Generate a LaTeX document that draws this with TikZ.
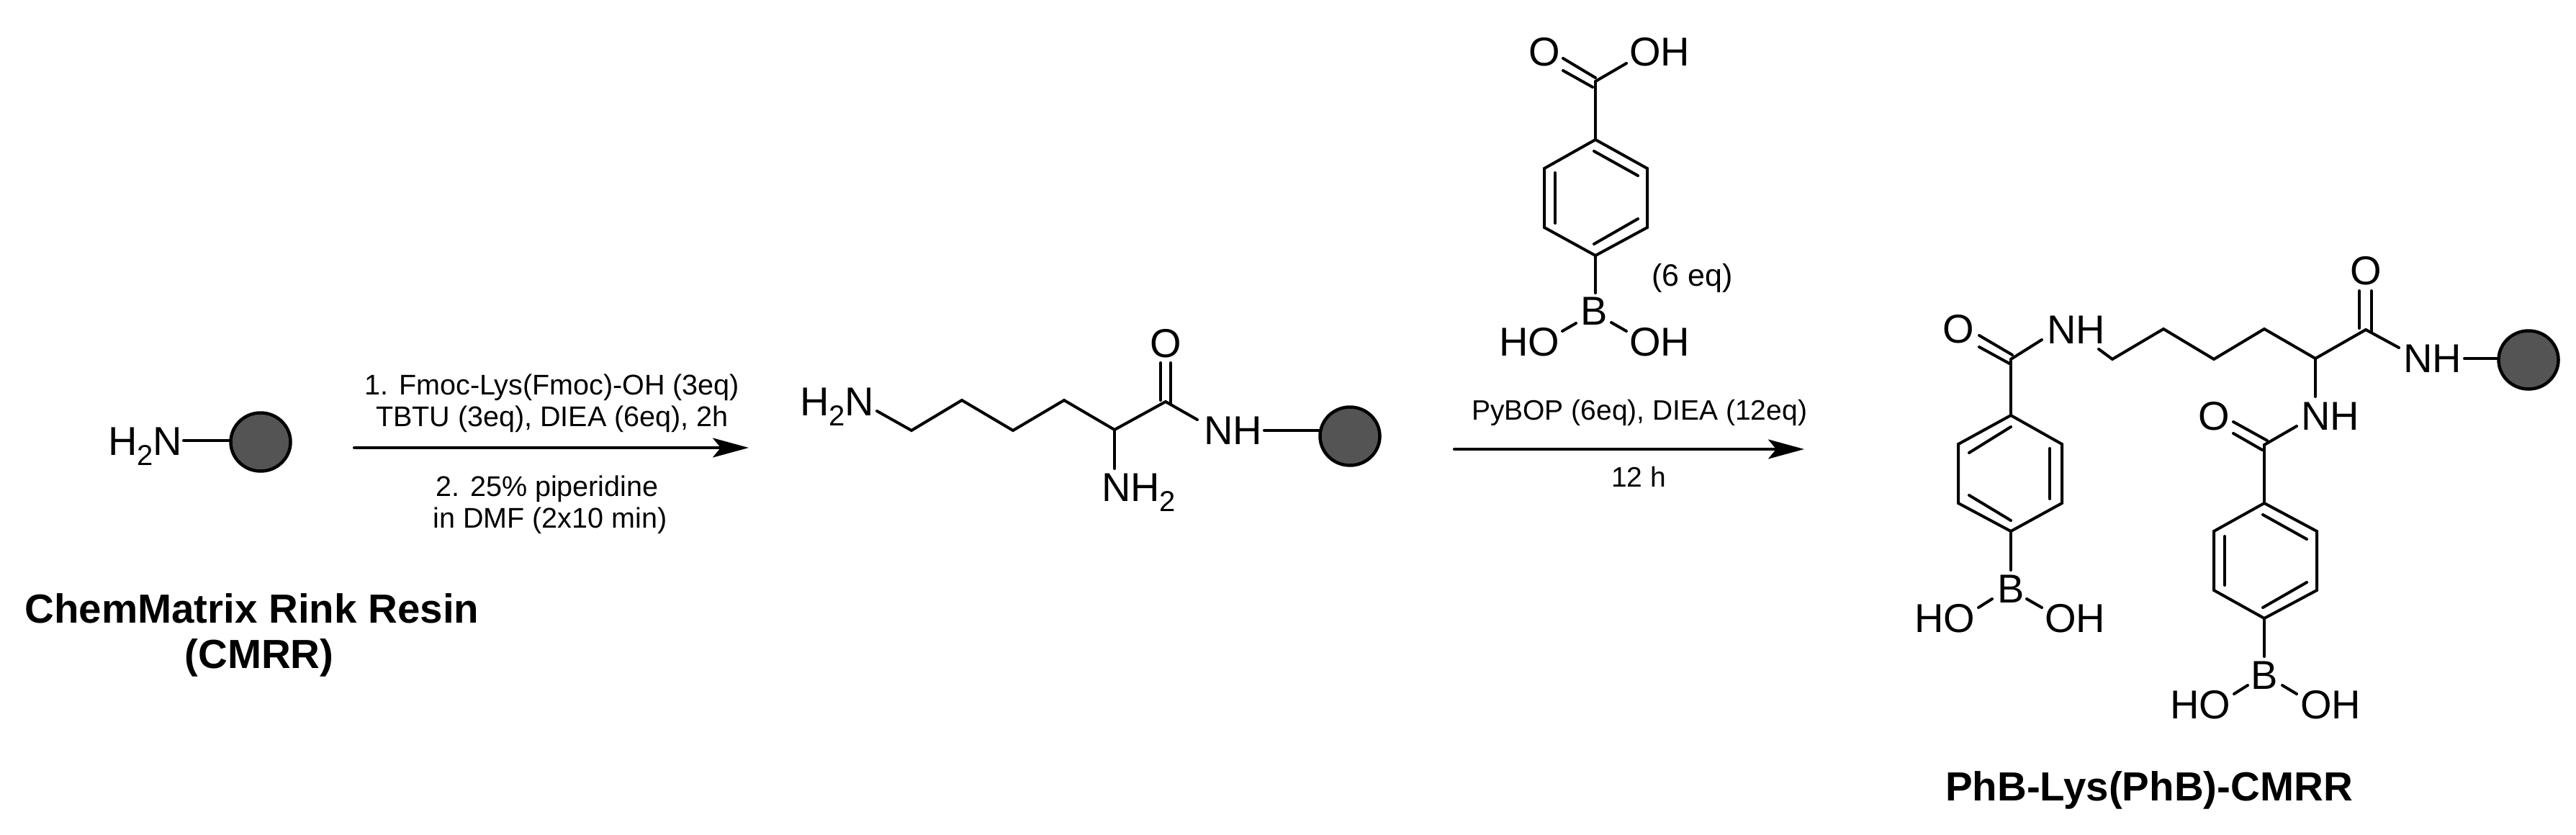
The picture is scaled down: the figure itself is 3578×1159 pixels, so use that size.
\documentclass[tikz,border=0pt]{standalone}
\usepackage{fontspec}
\setmainfont{Liberation Sans}
\usetikzlibrary{arrows.meta,shapes.geometric}
\newcommand{\subtwo}{\raisebox{-14pt}{\fontsize{40pt}{42pt}\selectfont 2}}
\tikzset{
 bond/.style={line width=4pt,line cap=round,line join=miter},
 rxn/.style={line width=4pt,line cap=round,-{Stealth[length=50pt,width=27pt,inset=11pt]}},
 atomW/.style={inner sep=0pt,outer sep=0pt,anchor=base west,xshift=-4pt,font=\fontsize{56pt}{60pt}\selectfont},
 atomC/.style={inner sep=0pt,outer sep=0pt,anchor=base,font=\fontsize{56pt}{60pt}\selectfont},
 condA/.style={inner sep=0pt,anchor=base,font=\fontsize{39.5pt}{46pt}\selectfont},
 condB/.style={inner sep=0pt,anchor=base,font=\fontsize{39pt}{44pt}\selectfont},
 title/.style={inner sep=0pt,anchor=base,font=\fontsize{56.5pt}{62pt}\selectfont\bfseries},
 ball/.style={ellipse,draw=black,line width=4.5pt,fill=ballgrey,inner sep=0pt,outer sep=0pt,minimum width=83pt,minimum height=81pt},
}
\definecolor{ballgrey}{HTML}{545454}
\begin{document}
\begin{tikzpicture}[x=1pt,y=-1pt]
\useasboundingbox (0,0) rectangle (3578,1159);
% --- resin
\node[atomW] (aH) at (154,632) {H\subtwo N};
\node[ball] (ballA) at (362,614) {};
\coordinate (aN) at (255,612);
\draw[bond] (aN) -- (ballA.west |- aN);
\coordinate (r1s) at (492,622); \coordinate (r1e) at (1040,622);
\draw[rxn] (r1s) -- (r1e);
\node[condA] (c1) at (767,548) {1. Fmoc-Lys(Fmoc)-OH (3eq)};
\node[condA] (c2) at (767,592) {TBTU (3eq), DIEA (6eq), 2h};
\node[condA] (c3) at (760,689) {2. 25\% piperidine};
\node[condA] (c4) at (764,733) {in DMF (2x10 min)};
\node[title] (t1) at (350,865) {ChemMatrix Rink Resin};
\node[title] (t2) at (360,928) {(CMRR)};
% --- lysine resin
\node[atomW] (bH) at (1115,577) {H\subtwo N};
\coordinate (b1) at (1218,571); \coordinate (b2) at (1266,598); \coordinate (b3) at (1336,556);
\coordinate (b4) at (1407,598); \coordinate (b5) at (1478,556); \coordinate (b6) at (1548,597);
\coordinate (b7) at (1619,558); \coordinate (b8) at (1663,583);
\draw[bond] (b1)--(b2)--(b3)--(b4)--(b5)--(b6)--(b7)--(b8);
\coordinate (bO1) at (1612,504); \coordinate (bO2) at (1612,556);
\coordinate (bO3) at (1626,504); \coordinate (bO4) at (1626,560);
\draw[bond] (bO1)--(bO2); \draw[bond] (bO3)--(bO4);
\node[atomC] (bO) at (1619,496) {O};
\node[atomW] (bNH) at (1676,617) {NH};
\node[ball] (ballB) at (1875,606) {};
\coordinate (bR) at (1756,598);
\draw[bond] (bR) -- (ballB.west |- bR);
\coordinate (b9) at (1548,651);
\draw[bond] (b6)--(b9);
\node[atomW] (bNH2) at (1534,696) {NH\subtwo};
% --- arrow 2 and reagent
\coordinate (r2s) at (2020,624); \coordinate (r2e) at (2506,624);
\draw[rxn] (r2s) -- (r2e);
\node[condB] (d1) at (2277,583) {PyBOP (6eq), DIEA (12eq)};
\node[condB] (d2) at (2276,676) {12 h};
\node[atomC] (cO) at (2145,91) {O};
\node[atomW] (cOH) at (2267,91) {OH};
\coordinate (cC) at (2216,113); \coordinate (cOH1) at (2259,88);
\draw[bond] (cC)--(cOH1);
\coordinate (cD1) at (2216,108); \coordinate (cD2) at (2171,81);
\coordinate (cD3) at (2212,121); \coordinate (cD4) at (2171,98);
\draw[bond] (cD1)--(cD2); \draw[bond] (cD3)--(cD4);
\coordinate (c1r) at (2216,194); \coordinate (c2r) at (2288,234); \coordinate (c3r) at (2288,316);
\coordinate (c4r) at (2216,355); \coordinate (c5r) at (2145,316); \coordinate (c6r) at (2145,234);
\draw[bond] (cC)--(c1r);
\draw[bond] (c1r)--(c2r)--(c3r)--(c4r)--(c5r)--(c6r)--cycle;
\coordinate (ci1) at (2214,210); \coordinate (ci2) at (2275,244);
\coordinate (ci3) at (2160,240); \coordinate (ci4) at (2160,310);
\coordinate (ci5) at (2214,339); \coordinate (ci6) at (2275,304);
\draw[bond] (ci1)--(ci2); \draw[bond] (ci3)--(ci4); \draw[bond] (ci5)--(ci6);
\coordinate (cB0) at (2216,407);
\draw[bond] (c4r)--(cB0);
\node[atomC] (cB) at (2214,451) {B};
\node[atomW] (cHO) at (2086,494) {HO};
\node[atomW] (cOHb) at (2267,494) {OH};
\coordinate (cb1) at (2189,449); \coordinate (cb2) at (2170,460);
\coordinate (cb3) at (2238,448); \coordinate (cb4) at (2259,460);
\draw[bond] (cb1)--(cb2); \draw[bond] (cb3)--(cb4);
\node[inner sep=0pt,anchor=base west,font=\fontsize{43pt}{48pt}\selectfont] (ceq) at (2294,397) {(6 eq)};
% --- product
\node[atomC] (pO1) at (2720,476) {O};
\coordinate (pD1) at (2749,466); \coordinate (pD2) at (2795,493);
\coordinate (pD3) at (2749,482); \coordinate (pD4) at (2791,505);
\draw[bond] (pD1)--(pD2); \draw[bond] (pD3)--(pD4);
\coordinate (pC1) at (2793,499); \coordinate (pN1) at (2836,472);
\draw[bond] (pC1)--(pN1);
\node[atomW] (pNH1) at (2847,477) {NH};
\coordinate (p1) at (2915,485); \coordinate (p2) at (2934,499); \coordinate (p3) at (3005,457);
\coordinate (p4) at (3075,499); \coordinate (p5) at (3145,457); \coordinate (p6) at (3216,498);
\coordinate (p7) at (3286,458); \coordinate (p8) at (3332,483);
\draw[bond] (p1)--(p2)--(p3)--(p4)--(p5)--(p6)--(p7)--(p8);
\coordinate (pO3a) at (3277,404); \coordinate (pO3b) at (3277,456);
\coordinate (pO3c) at (3294,404); \coordinate (pO3d) at (3294,461);
\draw[bond] (pO3a)--(pO3b); \draw[bond] (pO3c)--(pO3d);
\node[atomC] (pO3) at (3286,395) {O};
\node[atomW] (pNH3) at (3342,517) {NH};
\node[ball] (ballC) at (3512,500) {};
\coordinate (pR) at (3423,498);
\draw[bond] (pR) -- (ballC.west |- pR);
\coordinate (p9) at (3216,551);
\draw[bond] (p6)--(p9);
\node[atomW] (pNH2) at (3200,597) {NH};
\node[atomC] (pO2) at (3075,597) {O};
\coordinate (pC2) at (3145,618); \coordinate (pN2) at (3190,592);
\draw[bond] (pC2)--(pN2);
\coordinate (pE1) at (3102,586); \coordinate (pE2) at (3149,612);
\coordinate (pE3) at (3102,602); \coordinate (pE4) at (3142,625);
\draw[bond] (pE1)--(pE2); \draw[bond] (pE3)--(pE4);
% ring 1
\coordinate (q1) at (2793,577); \coordinate (q2) at (2864,617); \coordinate (q3) at (2864,699);
\coordinate (q4) at (2793,738); \coordinate (q5) at (2720,699); \coordinate (q6) at (2720,617);
\draw[bond] (pC1)--(q1);
\draw[bond] (q1)--(q2)--(q3)--(q4)--(q5)--(q6)--cycle;
\coordinate (qi1) at (2793,593); \coordinate (qi2) at (2735,629);
\coordinate (qi3) at (2847,623); \coordinate (qi4) at (2847,693);
\coordinate (qi5) at (2735,688); \coordinate (qi6) at (2793,723);
\draw[bond] (qi1)--(qi2); \draw[bond] (qi3)--(qi4); \draw[bond] (qi5)--(qi6);
\coordinate (qB0) at (2793,792);
\draw[bond] (q4)--(qB0);
\node[atomC] (qB) at (2793,837) {B};
\node[atomW] (qHO) at (2663,878) {HO};
\node[atomW] (qOH) at (2844,878) {OH};
\coordinate (qb1) at (2767,832); \coordinate (qb2) at (2748,844);
\coordinate (qb3) at (2815,832); \coordinate (qb4) at (2836,844);
\draw[bond] (qb1)--(qb2); \draw[bond] (qb3)--(qb4);
% ring 2
\coordinate (s1) at (3145,699); \coordinate (s2) at (3218,738); \coordinate (s3) at (3218,820);
\coordinate (s4) at (3145,859); \coordinate (s5) at (3075,820); \coordinate (s6) at (3075,738);
\draw[bond] (pC2)--(s1);
\draw[bond] (s1)--(s2)--(s3)--(s4)--(s5)--(s6)--cycle;
\coordinate (si1) at (3143,715); \coordinate (si2) at (3204,749);
\coordinate (si3) at (3090,745); \coordinate (si4) at (3090,813);
\coordinate (si5) at (3204,809); \coordinate (si6) at (3143,844);
\draw[bond] (si1)--(si2); \draw[bond] (si3)--(si4); \draw[bond] (si5)--(si6);
\coordinate (sB0) at (3145,912);
\draw[bond] (s4)--(sB0);
\node[atomC] (sB) at (3145,957) {B};
\node[atomW] (sHO) at (3018,998) {HO};
\node[atomW] (sOH) at (3199,998) {OH};
\coordinate (sb1) at (3122,952); \coordinate (sb2) at (3103,964);
\coordinate (sb3) at (3170,952); \coordinate (sb4) at (3190,964);
\draw[bond] (sb1)--(sb2); \draw[bond] (sb3)--(sb4);
\node[title] (t3) at (2985,1112) {PhB-Lys(PhB)-CMRR};
\end{tikzpicture}
\end{document}
